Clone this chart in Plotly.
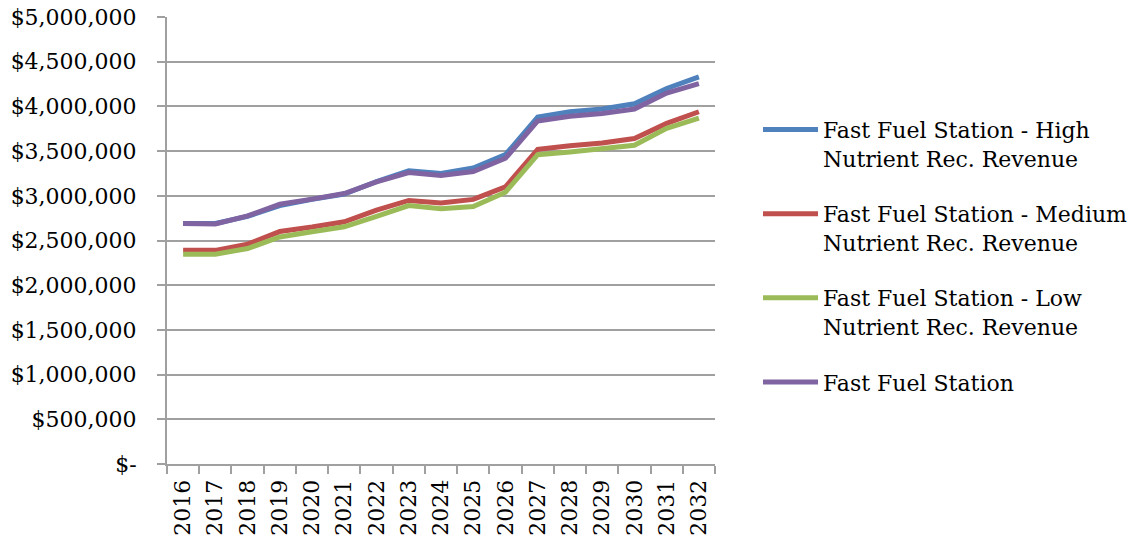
import plotly.graph_objects as go

years = [str(y) for y in range(2016, 2033)]

high = [2.69, 2.69, 2.77, 2.89, 2.96, 3.02, 3.16, 3.28, 3.25, 3.31, 3.46, 3.88, 3.94, 3.97, 4.03, 4.20, 4.33]
medium = [2.39, 2.39, 2.46, 2.60, 2.65, 2.71, 2.84, 2.948, 2.92, 2.96, 3.10, 3.52, 3.56, 3.59, 3.64, 3.81, 3.94]
low = [2.347, 2.347, 2.41, 2.54, 2.597, 2.653, 2.77, 2.89, 2.855, 2.88, 3.04, 3.46, 3.49, 3.53, 3.565, 3.755, 3.87]
base = [2.69, 2.685, 2.776, 2.905, 2.963, 3.026, 3.156, 3.26, 3.228, 3.272, 3.42, 3.837, 3.89, 3.92, 3.97, 4.15, 4.255]

series_names = [
    "Fast Fuel Station - High<br>Nutrient Rec. Revenue",
    "Fast Fuel Station - Medium<br>Nutrient Rec. Revenue",
    "Fast Fuel Station - Low<br>Nutrient Rec. Revenue",
    "Fast Fuel Station",
]
series_values = [high, medium, low, base]
series_colors = ["#4F81BD", "#C0504D", "#9BBB59", "#8064A2"]

tick_vals = [i * 500000 for i in range(11)]
tick_text = ["$-"] + [f"${v:,}" for v in tick_vals[1:]]

FONT = "DejaVu Serif"
GRID = "#A0A0A0"

fig = go.Figure()
for i, (name, vals, color) in enumerate(zip(series_names, series_values, series_colors)):
    fig.add_trace(go.Scatter(
        x=years,
        y=[v * 1e6 for v in vals],
        mode="lines",
        name=name,
        legendgroup=f"g{i}",
        line=dict(color=color, width=5),
    ))

fig.update_layout(
    width=1128,
    height=540,
    margin=dict(l=167, r=413, t=17, b=76, autoexpand=False),
    paper_bgcolor="white",
    plot_bgcolor="white",
    font=dict(family=FONT, size=22, color="#000000"),
    showlegend=True,
    legend=dict(
        x=1.0785,
        xanchor="left",
        y=0.795,
        yanchor="top",
        valign="top",
        tracegroupgap=24,
        itemwidth=55,
        font=dict(family=FONT, size=22, color="#000000"),
        bgcolor="rgba(0,0,0,0)",
    ),
    xaxis=dict(
        type="category",
        tickangle=-90,
        ticks="outside",
        tickson="boundaries",
        ticklen=8,
        tickcolor=GRID,
        tickwidth=2,
        showline=True,
        linecolor=GRID,
        linewidth=2,
        showgrid=False,
        automargin=False,
        tickfont=dict(family=FONT, size=22),
        ticklabelstandoff=5,
        range=[-0.5, 16.5],
    ),
    yaxis=dict(
        range=[0, 5000000],
        tickvals=tick_vals,
        ticktext=tick_text,
        ticks="outside",
        ticklen=8,
        tickcolor=GRID,
        tickwidth=2,
        showline=True,
        linecolor=GRID,
        linewidth=2,
        showgrid=True,
        gridcolor=GRID,
        gridwidth=2,
        zeroline=False,
        automargin=False,
        tickfont=dict(family=FONT, size=22),
        ticklabelstandoff=16,
    ),
)

fig.write_html("out.html")
